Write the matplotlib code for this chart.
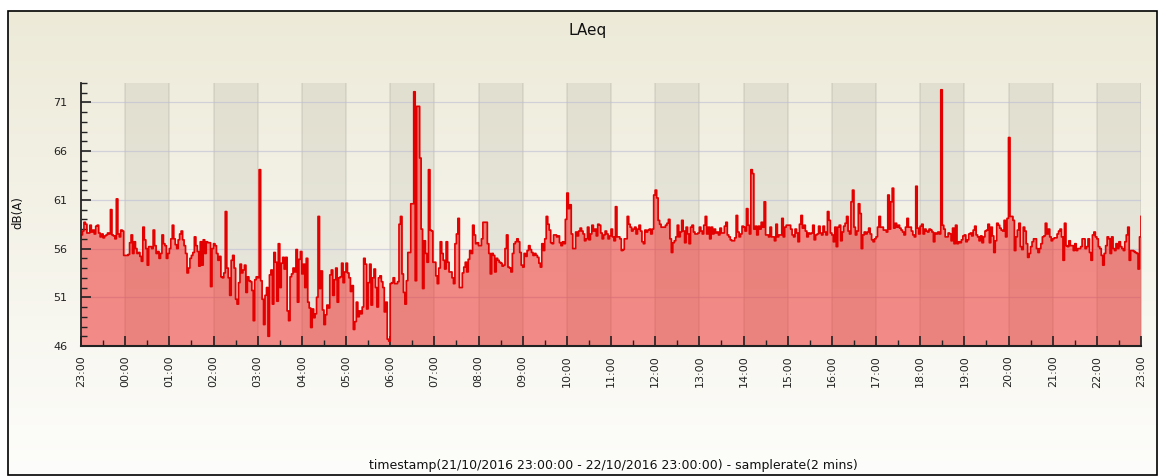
import numpy as np
import matplotlib
matplotlib.use("Agg")
import matplotlib.pyplot as plt
from matplotlib.patches import Rectangle

title = "LAeq"
y_label = "dB(A)"
x_label = "timestamp(21/10/2016 23:00:00 - 22/10/2016 23:00:00) - samplerate(2 mins)"
hour_labels = ["23:00", "00:00", "01:00", "02:00", "03:00", "04:00", "05:00", "06:00",
               "07:00", "08:00", "09:00", "10:00", "11:00", "12:00", "13:00", "14:00",
               "15:00", "16:00", "17:00", "18:00", "19:00", "20:00", "21:00", "22:00", "23:00"]
y_ticks = [46, 51, 56, 61, 66, 71]
sample_minutes = 2

# LAeq per 2-minute sample, one list per hour (starting 23:00)
h23_prev = [57.4, 57.8, 58.7, 58.5, 57.6, 57.6, 58.4, 57.7, 57.9, 57.5, 58.3, 58.4, 57.6, 57.2, 57.5,
            57.1, 57.3, 57.4, 57.6, 57.5, 60.0, 57.4, 57.3, 57.0, 61.1, 57.5, 57.2, 57.9, 57.8, 55.3]
h00 = [55.3, 55.3, 55.4, 56.6, 57.4, 55.5, 56.7, 56.0, 55.5, 55.6, 55.2, 54.7, 58.2, 56.9, 56.0,
       54.3, 56.2, 56.2, 56.0, 57.9, 56.3, 55.5, 55.7, 55.0, 55.5, 57.4, 56.5, 56.3, 55.0, 55.5]
h01 = [56.0, 57.0, 58.4, 57.0, 56.4, 56.0, 56.9, 57.5, 57.8, 56.9, 56.3, 55.5, 53.5, 54.0, 55.0,
       55.3, 55.6, 57.2, 56.3, 55.7, 54.2, 56.7, 54.3, 56.9, 55.5, 56.7, 56.6, 56.6, 52.1, 56.0]
h02 = [56.5, 56.3, 55.5, 54.8, 55.2, 53.1, 53.0, 53.5, 59.8, 54.0, 53.0, 51.2, 54.8, 55.3, 54.0,
       50.8, 50.3, 52.5, 54.4, 53.5, 53.8, 54.3, 51.5, 53.1, 52.7, 52.6, 51.7, 48.6, 52.8, 53.1]
h03 = [53.0, 64.1, 52.7, 50.8, 48.2, 51.2, 52.0, 47.0, 53.3, 53.8, 50.3, 55.6, 54.6, 50.6, 56.5,
       52.0, 54.5, 55.1, 53.9, 55.1, 49.6, 48.6, 53.1, 53.4, 54.0, 53.6, 55.9, 50.5, 54.9, 55.7]
h04 = [53.4, 54.4, 52.0, 55.0, 50.5, 49.9, 47.9, 49.8, 48.9, 49.3, 51.0, 59.3, 51.9, 53.7, 49.7,
       48.2, 49.2, 50.2, 49.9, 53.3, 53.8, 51.2, 52.8, 54.0, 50.5, 53.0, 53.1, 54.5, 52.5, 53.6]
h05 = [54.5, 53.5, 53.0, 51.6, 52.2, 47.7, 48.5, 50.5, 49.0, 49.6, 49.3, 50.0, 55.0, 54.4, 49.8,
       52.5, 54.4, 50.2, 53.0, 53.9, 52.0, 50.0, 53.0, 53.2, 52.6, 52.0, 49.5, 50.5, 46.7, 46.5]
h06 = [52.4, 52.5, 53.0, 52.4, 52.4, 52.6, 58.5, 59.3, 53.4, 51.5, 50.3, 52.7, 55.6, 55.6, 60.6,
       60.6, 72.1, 52.7, 70.6, 70.6, 65.3, 58.0, 51.9, 56.8, 55.5, 54.6, 64.1, 57.9, 57.8, 54.6]
h07 = [54.6, 53.2, 52.4, 54.0, 56.7, 55.5, 54.8, 53.9, 56.7, 54.6, 53.6, 53.6, 53.0, 52.4, 56.5,
       57.5, 59.1, 52.0, 52.0, 53.5, 54.1, 54.6, 53.6, 54.9, 55.8, 55.5, 58.4, 57.4, 56.5, 56.6]
h08 = [56.3, 56.3, 57.0, 58.7, 58.7, 58.7, 56.5, 55.5, 53.4, 55.5, 55.3, 53.6, 55.0, 54.8, 54.6,
       54.5, 54.2, 54.3, 56.0, 57.4, 54.1, 54.0, 53.6, 55.5, 56.5, 56.7, 57.0, 56.7, 55.6, 54.3]
h09 = [54.1, 55.5, 55.2, 55.8, 56.3, 55.9, 55.6, 55.3, 55.5, 55.3, 55.1, 54.5, 54.1, 56.5, 55.8,
       57.0, 59.3, 58.5, 57.9, 56.6, 56.5, 57.4, 57.4, 57.2, 57.3, 56.6, 56.3, 56.7, 56.5, 59.0]
h10 = [61.7, 60.1, 60.5, 57.5, 56.0, 56.0, 57.7, 57.3, 57.8, 58.1, 57.8, 57.5, 56.8, 57.0, 58.2,
       56.9, 57.5, 58.4, 57.8, 58.0, 57.3, 58.5, 58.4, 57.6, 57.0, 57.4, 57.8, 57.5, 57.0, 57.3]
h11 = [58.0, 57.2, 56.8, 60.3, 57.2, 57.2, 57.0, 55.8, 55.9, 57.0, 57.0, 59.3, 58.5, 58.2, 57.8,
       58.0, 58.2, 57.5, 58.0, 58.4, 57.8, 56.7, 56.5, 57.9, 57.7, 57.9, 58.0, 57.5, 58.0, 61.5]
h12 = [62.0, 61.2, 58.9, 58.5, 58.2, 58.2, 58.2, 58.4, 58.6, 59.0, 57.0, 55.6, 56.6, 56.8, 57.2,
       58.4, 57.2, 57.7, 58.9, 57.8, 56.6, 58.2, 57.5, 56.5, 58.2, 58.4, 57.7, 57.5, 57.5, 57.6]
h13 = [58.2, 57.8, 57.5, 58.4, 59.3, 57.5, 58.2, 57.0, 58.2, 57.5, 58.0, 57.6, 57.7, 57.4, 58.1,
       57.6, 57.6, 58.3, 58.7, 57.4, 57.2, 56.9, 56.8, 56.8, 57.1, 59.4, 57.7, 57.2, 57.5, 58.3]
h14 = [58.2, 57.8, 60.1, 58.4, 57.5, 64.1, 63.7, 58.0, 58.3, 57.4, 58.3, 58.0, 58.7, 58.2, 60.8,
       57.4, 57.4, 57.2, 58.2, 57.2, 57.2, 56.8, 58.5, 57.2, 57.4, 57.4, 59.1, 57.2, 58.2, 58.4]
h15 = [58.4, 58.4, 58.0, 57.4, 57.2, 58.0, 57.6, 56.7, 58.5, 59.4, 58.1, 58.4, 57.8, 57.2, 57.6,
       57.5, 57.6, 58.4, 56.9, 57.4, 57.5, 58.3, 57.6, 57.4, 58.3, 57.7, 57.4, 59.8, 58.9, 57.6]
h16 = [57.4, 56.7, 58.2, 56.2, 58.2, 58.4, 56.8, 57.7, 58.3, 58.6, 59.3, 57.8, 57.5, 60.8, 62.0,
       58.2, 57.4, 57.8, 60.6, 59.6, 56.0, 57.4, 57.7, 57.5, 57.7, 58.1, 57.5, 56.9, 56.7, 57.0]
h17 = [57.2, 58.2, 59.3, 58.2, 58.2, 57.9, 57.9, 57.7, 61.5, 58.0, 60.8, 62.2, 58.1, 58.6, 58.2,
       58.4, 58.1, 57.9, 57.7, 57.4, 58.2, 59.1, 58.2, 58.2, 57.8, 57.4, 57.2, 62.4, 58.1, 57.5]
h18 = [58.3, 58.5, 57.5, 58.0, 57.8, 57.7, 58.0, 57.9, 57.7, 56.7, 57.6, 57.5, 57.7, 57.5, 72.3,
       58.4, 58.0, 57.2, 57.2, 57.6, 57.5, 56.8, 58.1, 56.5, 58.4, 56.5, 56.7, 56.6, 56.9, 57.3]
h19 = [57.4, 56.7, 56.9, 57.5, 57.6, 57.3, 57.9, 58.3, 57.4, 57.2, 56.8, 57.3, 56.6, 57.2, 57.8,
       57.9, 58.5, 56.6, 58.2, 57.3, 55.6, 56.8, 58.6, 58.4, 58.1, 57.9, 57.8, 58.9, 57.2, 59.1]
h20 = [67.4, 59.3, 59.3, 58.9, 55.8, 57.2, 57.9, 58.6, 56.2, 55.9, 58.2, 57.8, 56.5, 55.1, 55.5,
       56.2, 56.7, 57.0, 57.0, 56.0, 55.6, 56.0, 56.5, 57.2, 57.3, 58.6, 57.5, 58.0, 57.2, 56.8]
h21 = [57.0, 57.1, 57.1, 57.5, 57.8, 58.0, 57.2, 54.8, 58.6, 56.3, 56.2, 56.8, 56.3, 56.3, 55.8,
       56.5, 55.8, 56.0, 56.0, 56.2, 57.0, 57.0, 56.0, 56.2, 57.0, 55.6, 54.8, 57.4, 57.7, 57.2]
h22 = [57.0, 56.2, 56.0, 55.3, 54.3, 55.5, 56.3, 57.2, 57.0, 55.5, 57.2, 56.0, 55.8, 56.5, 56.0,
       56.7, 56.2, 56.0, 55.8, 56.7, 57.4, 58.2, 54.8, 55.8, 55.8, 55.7, 55.6, 55.5, 53.9, 57.2]
final_sample = [59.3]

levels = np.array(h23_prev + h00 + h01 + h02 + h03 + h04 + h05 + h06 + h07 + h08 + h09 + h10 +
                  h11 + h12 + h13 + h14 + h15 + h16 + h17 + h18 + h19 + h20 + h21 + h22 + final_sample)
hours = np.arange(len(levels)) * sample_minutes / 60.0

W, H = 1162, 476
fig = plt.figure(figsize=(W / 100, H / 100), dpi=100)
fig.patch.set_facecolor("white")

# background panel with gradient and border
bg = fig.add_axes([0, 0, 1, 1], zorder=-10)
bg.set_xlim(0, W)
bg.set_ylim(H, 0)
bg.axis("off")
top_c = np.array([237, 234, 216]) / 255.0
bot_c = np.array([253, 253, 251]) / 255.0
t = np.linspace(0, 1, 256)[:, None]
grad = (top_c[None, :] * (1 - t) + bot_c[None, :] * t)[:, None, :]
bg.imshow(grad, extent=(8, 1157, 475, 11), aspect="auto", interpolation="bilinear")
bg.add_patch(Rectangle((8, 11), 1149, 464, fill=False, edgecolor="black", lw=1.2))

ax = fig.add_axes([81 / W, 1 - 346 / H, (1141 - 81) / W, (346 - 83) / H])
ax.patch.set_alpha(0)
ax.set_xlim(0, 24)
ax.set_ylim(46, 73)

for h in range(1, 24, 2):
    ax.axvspan(h, h + 1, color=(0.62, 0.62, 0.55), alpha=0.17, lw=0, zorder=0)
    ax.axvline(h, color=(0.55, 0.55, 0.5), alpha=0.2, lw=1.2, zorder=0.1)
    ax.axvline(h + 1, color=(0.55, 0.55, 0.5), alpha=0.2, lw=1.2, zorder=0.1)
for yv in y_ticks[1:]:
    ax.axhline(yv, color=(0.74, 0.74, 0.84), lw=0.9, alpha=0.6, zorder=0.5)

ax.fill_between(hours, 46, levels, step="post", color=(0.93, 0.12, 0.12), alpha=0.5, lw=0, zorder=1)
ax.step(hours, levels, where="post", color="#E30000", lw=1.25, zorder=2)

for s in ["top", "right"]:
    ax.spines[s].set_visible(False)
ax.spines["left"].set_linewidth(1.3)
ax.spines["bottom"].set_linewidth(1.5)
ax.spines["left"].set_color("#222222")
ax.spines["bottom"].set_color("#222222")

ax.set_xticks(range(25))
ax.set_xticklabels(hour_labels, rotation=90)
ax.set_xticks(np.arange(0.5, 24, 1), minor=True)
ax.set_yticks(y_ticks)
ax.set_yticklabels([str(v) for v in y_ticks])
ax.set_yticks(range(46, 74), minor=True)
ax.tick_params(axis="both", which="major", direction="in", length=7, width=1.2,
               labelsize=8, colors="#222222")
ax.tick_params(axis="both", which="minor", direction="in", length=4, width=1.0, colors="#222222")
ax.tick_params(axis="y", which="major", pad=10)
ax.tick_params(axis="x", which="major", pad=7)

fig.text(588 / W, 1 - 30 / H, title, ha="center", va="center", fontsize=11, color="#111111")
fig.text(18 / W, 1 - 213 / H, y_label, ha="center", va="center", rotation=90, fontsize=8.5, color="#111111")
fig.text(613 / W, 1 - 466 / H, x_label, ha="center", va="center", fontsize=9, color="#111111")

fig.savefig("out.png", dpi=100)
